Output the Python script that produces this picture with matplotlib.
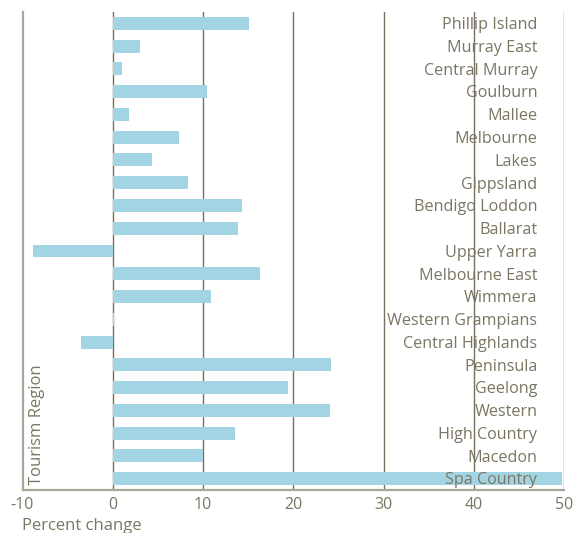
import matplotlib
matplotlib.use("Agg")
import matplotlib.pyplot as plt

regions = ["Phillip Island", "Murray East", "Central Murray", "Goulburn", "Mallee",
           "Melbourne", "Lakes", "Gippsland", "Bendigo Loddon", "Ballarat",
           "Upper Yarra", "Melbourne East", "Wimmera", "Western Grampians",
           "Central Highlands", "Peninsula", "Geelong", "Western", "High Country",
           "Macedon", "Spa Country"]
values = [15.1, 3.0, 1.0, 10.4, 1.8, 7.3, 4.3, 8.3, 14.3, 13.9,
          -8.8, 16.3, 10.9, 0.1, -3.5, 24.2, 19.4, 24.1, 13.5, 10.0, 49.8]
xticks = [-10, 0, 10, 20, 30, 40, 50]

txt = "#7a7662"
grid_c = "#77705e"
spine_c = "#aaa69a"
bar_c = "#a3d4e3"

plt.rcParams['font.family'] = ['Open Sans', 'DejaVu Sans']

fig = plt.figure(figsize=(5.73, 5.33), dpi=100)
ax = fig.add_axes([22.5/573, 1 - 490/533, (564-22.5)/573, (490-12)/533])

n = len(regions)
ypos = list(range(n))
ax.barh(ypos, values, height=0.57, color=bar_c, zorder=2)
ax.set_ylim(n - 0.5, -0.5)
ax.set_xlim(-10, 50)
for xv in xticks[1:]:
    ax.axvline(xv, color=grid_c, lw=1.0, zorder=1)
ax.set_yticks([])
ax.set_xticks(xticks)
ax.set_xticklabels([str(v) for v in xticks], color=txt, fontsize=11.5)
ax.tick_params(axis='x', length=0, pad=5)
for s in ["top", "right"]:
    ax.spines[s].set_visible(False)
for s in ["left", "bottom"]:
    ax.spines[s].set_color(spine_c)
    ax.spines[s].set_linewidth(1.6)

for i, r in enumerate(regions):
    ax.text(0.951, i + 0.08, r, transform=ax.get_yaxis_transform(),
            ha='right', va='center', color=txt, fontsize=11.6, zorder=3)

ax.text(0.012, 0.01, "Tourism Region", transform=ax.transAxes, rotation=90,
        ha='left', va='bottom', color=txt, fontsize=12)
fig.text(22/573, 1 - 526/533, "Percent change", ha='left', va='center',
         color=txt, fontsize=12)

fig.savefig("out.png", dpi=100)
